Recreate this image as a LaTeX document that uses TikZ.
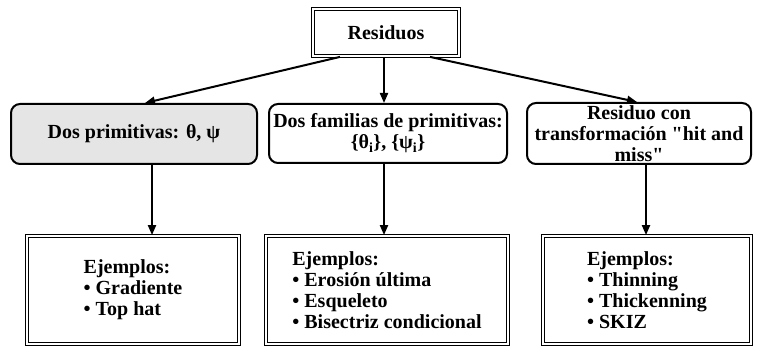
\documentclass[tikz,border=0pt]{standalone}
\usepackage{fontspec}
\setmainfont{Liberation Serif}
\usetikzlibrary{arrows.meta}

\tikzset{
  framebox/.style={draw, line width=1.8pt, double, double distance=1.2pt, inner sep=0pt},
  softbox/.style={draw, line width=2pt, rounded corners=9pt, align=center, inner sep=0pt},
  arrowline/.style={line width=2pt, -{Triangle[length=10pt,width=8pt]}}
}

\begin{document}
\begin{tikzpicture}[x=1pt, y=-1pt, font=\fontsize{20}{21}\selectfont\bfseries]
    \useasboundingbox (0,0) rectangle (757,347);

    \node[framebox, minimum width=146pt, minimum height=47pt] (res) at (386,32.5) {Residuos};

    \node[softbox, fill=black!10, minimum width=246pt, minimum height=60pt] (prim) at (134,134) {Dos primitivas: θ, ψ};
    \node[softbox, minimum width=238pt, minimum height=59pt] (fam) at (388,133.5) {Dos familias de primitivas:\\ \{θ\textsubscript{i}\}, \{ψ\textsubscript{i}\}};
    \node[softbox, minimum width=224pt, minimum height=61pt] (hit) at (639,133.5) {Residuo con\\ transformación \textquotedbl hit and\\ miss\textquotedbl};

    \node[framebox, minimum width=212pt, minimum height=108pt] (ejA) at (133,290) {};
    \node[framebox, minimum width=242pt, minimum height=108pt] (ejB) at (387,290) {};
    \node[framebox, minimum width=208pt, minimum height=108pt] (ejC) at (647,290) {};

    \node[align=left] (txtA) at (ejA) {Ejemplos:\\ • Gradiente\\ • Top hat};
    \node[align=left] (txtB) at (ejB) {Ejemplos:\\ • Erosión última\\ • Esqueleto\\ • Bisectriz condicional};
    \node[align=left] (txtC) at (ejC) {Ejemplos:\\ • Thinning\\ • Thickenning\\ • SKIZ};

    % arrows from the top box
    \draw[arrowline] ([xshift=-46pt]res.south) -- ([xshift=11pt]prim.north);
    \draw[arrowline] ([xshift=-2pt]res.south) -- ([xshift=-4pt]fam.north);
    \draw[arrowline] ([xshift=44pt]res.south) -- ([xshift=-2pt]hit.north);

    % arrows down to the examples
    \foreach \from/\to/\dx in {prim/ejA/18, fam/ejB/-4, hit/ejC/7}
      \draw[arrowline] ([xshift=\dx pt]\from.south) -- ([xshift=\dx pt]\from.south |- \to.north);
\end{tikzpicture}
\end{document}
